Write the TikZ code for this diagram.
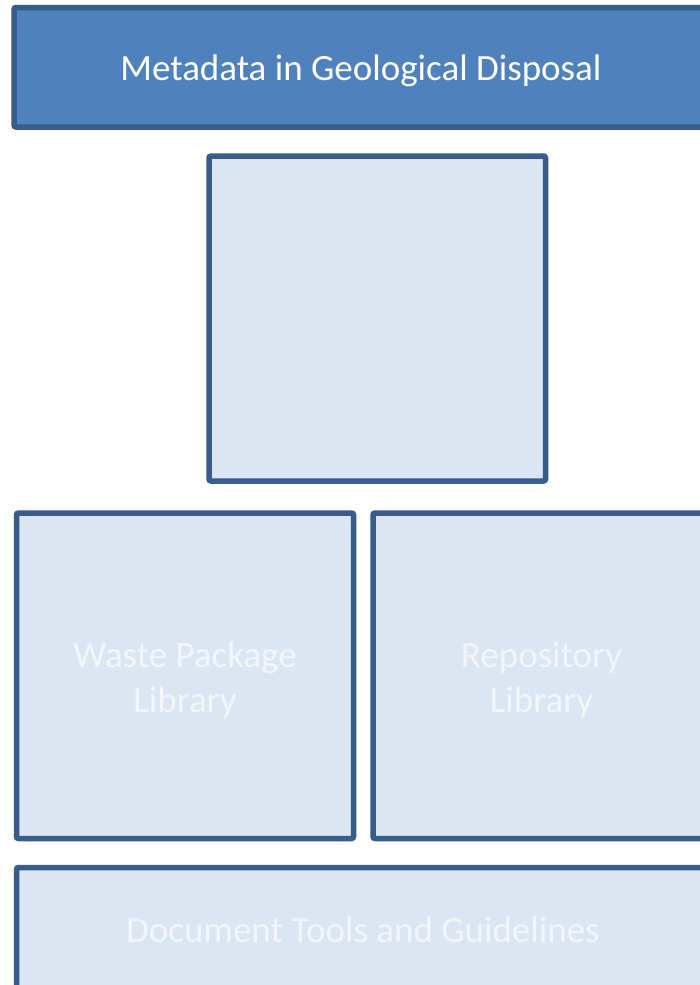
\documentclass[tikz,border=0pt]{standalone}
\usepackage{fontspec}
\setmainfont{Carlito}
\definecolor{bannerfill}{HTML}{4F81BD}
\definecolor{boxline}{HTML}{385D8A}
\definecolor{lightfill}{HTML}{DCE6F2}
\definecolor{paletext}{HTML}{F2F6FB}
\tikzset{
  panel/.style={draw=boxline, line width=5.5pt, rounded corners=2pt},
  bannerbox/.style={panel, fill=bannerfill},
  lightbox/.style={panel, fill=lightfill},
  bannertext/.style={text=white, font=\fontsize{37}{45}\selectfont, align=center},
  boxtext/.style={text=paletext, font=\fontsize{37}{45}\selectfont, align=center}
}
\begin{document}
\begin{tikzpicture}[x=1pt, y=-1pt]
\path[use as bounding box, clip] (0,0) rectangle (700,985);
\fill[white] (0,0) rectangle (700,985);
% banner
\draw[bannerbox] (14,7.5) rectangle (708,127);
\node[bannertext] (title) at (361,70.5) {Metadata in Geological Disposal};
% middle empty box
\draw[lightbox] (209,156) rectangle (545.5,481);
\coordinate (middle) at (377,318);
% waste package
\draw[lightbox] (16.5,513) rectangle (353.5,838.5);
\node[boxtext] (waste) at (185,680) {Waste Package\\Library};
% repository
\draw[lightbox] (373,513) rectangle (710,838.5);
\node[boxtext] (repo) at (541.5,680) {Repository\\Library};
% document tools
\draw[lightbox] (16.5,867.5) rectangle (710,990);
\node[boxtext] (docs) at (363,930) {Document Tools and Guidelines};
\end{tikzpicture}
\end{document}
